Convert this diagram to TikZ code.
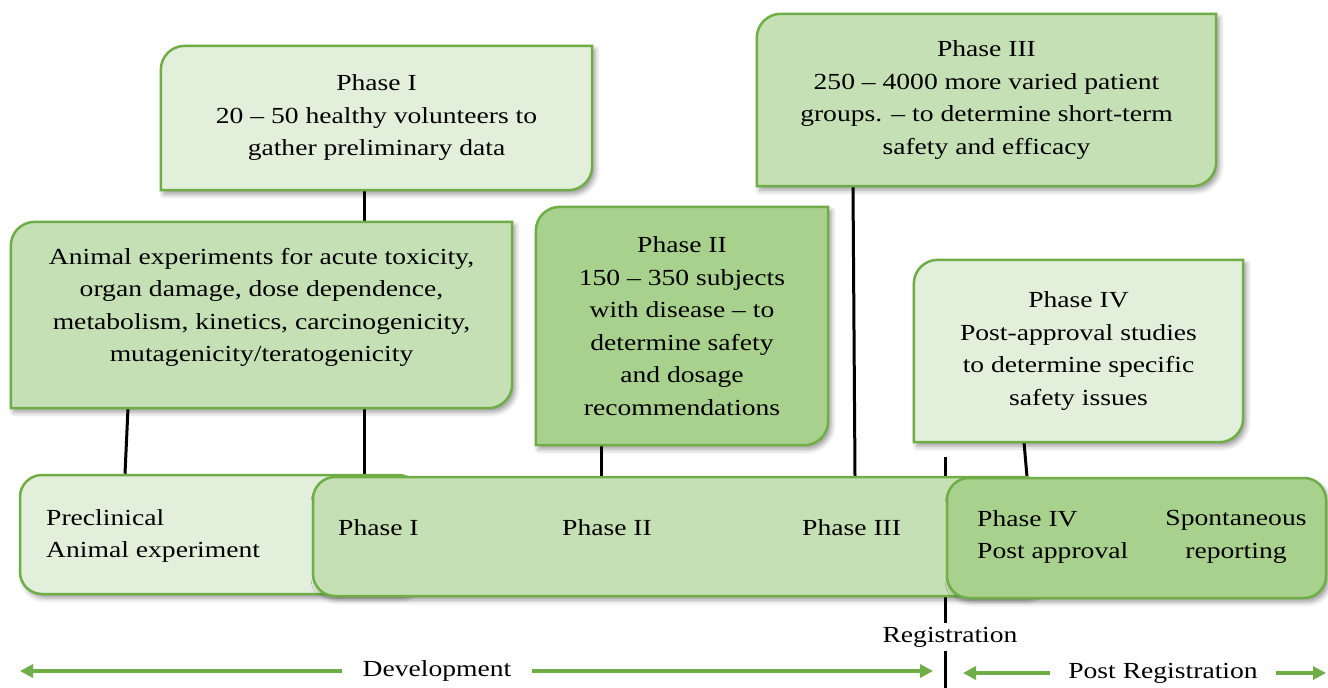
\documentclass[tikz,border=0pt]{standalone}
\usepackage{fontspec}
\setmainfont{Liberation Serif}[FakeStretch=1.2]
\usetikzlibrary{arrows.meta,shadows.blur}

\definecolor{paleleaf}{HTML}{E2EFDA}
\definecolor{midleaf}{HTML}{C5E0B4}
\definecolor{deepleaf}{HTML}{A9D18E}
\definecolor{edgeleaf}{HTML}{70AD47}

\pgfdeclarelayer{links}
\pgfdeclarelayer{panels}
\pgfsetlayers{links,panels,main}

% outline with rounded top-left and bottom-right corners around a node
\newcommand\leafoutline[1]{(#1.south west) -- ([yshift=-24pt]#1.north west)
  arc[start angle=180,end angle=90,radius=24pt] -- (#1.north east)
  -- ([yshift=24pt]#1.south east) arc[start angle=0,end angle=-90,radius=24pt] -- cycle}

\begin{document}
\begin{tikzpicture}[x=1pt,y=-1pt,
  every node/.style={font=\fontsize{23}{32.5}\selectfont, text=black},
  softshadow/.style={blur shadow={shadow xshift=3pt,shadow yshift=-4pt,
      shadow blur radius=5pt,shadow opacity=40}},
  callout/.style={inner sep=0pt, align=center},
  leaf/.style={draw=edgeleaf, line width=2.5pt, softshadow},
  bar/.style={draw=edgeleaf, line width=2.5pt, rounded corners=22pt,
      inner sep=0pt, softshadow},
  lbl/.style={inner sep=0pt},
  link/.style={draw=black, line width=3pt},
  guide/.style={draw=edgeleaf, line width=4pt, -{Triangle[length=13pt,width=13pt]}}]

\useasboundingbox (0,0) rectangle (1328,688);

% description callouts
\node[callout, minimum width=431pt, minimum height=144pt] (c1) at (376.5,118)
  {Phase I\\20 – 50 healthy volunteers to\\gather preliminary data};
\node[callout, minimum width=501pt, minimum height=186pt] (c0) at (261.5,315)
  {Animal experiments for acute toxicity,\\organ damage, dose dependence,\\
   metabolism, kinetics, carcinogenicity,\\mutagenicity/teratogenicity\\[-12pt]\mbox{}};
\node[callout, minimum width=292pt, minimum height=238pt] (c2) at (682,326)
  {Phase II\\150 – 350 subjects\\with disease – to\\determine safety\\and dosage\\recommendations};
\node[callout, minimum width=459pt, minimum height=172pt] (c3) at (986.5,100)
  {Phase III\\250 – 4000 more varied patient\\groups. – to determine short-term\\safety and efficacy};
\node[callout, minimum width=329pt, minimum height=182pt] (c4) at (1078.5,351)
  {Phase IV\\Post-approval studies\\to determine specific\\safety issues};

\begin{pgfonlayer}{panels}
  \path[leaf, fill=paleleaf] \leafoutline{c1};
  \path[leaf, fill=midleaf] \leafoutline{c0};
  \path[leaf, fill=deepleaf] \leafoutline{c2};
  \path[leaf, fill=midleaf] \leafoutline{c3};
  \path[leaf, fill=paleleaf] \leafoutline{c4};
  % timeline bars
  \node[bar, fill=paleleaf, minimum width=400pt, minimum height=119pt] (b0) at (220,534.5) {};
  \node[bar, fill=midleaf, minimum width=732pt, minimum height=119pt] (b1) at (679,536.5) {};
  \node[bar, fill=deepleaf, minimum width=379pt, minimum height=120pt] (b2) at (1136.5,538) {};
\end{pgfonlayer}

% bar labels
\node[lbl, anchor=west, align=left] (t0) at (46,536) {Preclinical\\Animal experiment};
\node[lbl, anchor=west] (t1) at (338,528) {Phase I};
\node[lbl, anchor=west] (t2) at (562,528) {Phase II};
\node[lbl, anchor=west] (t3) at (802,528) {Phase III};
\node[lbl, anchor=west, align=left] (t4) at (977,537) {Phase IV\\Post approval};
\node[lbl, align=center] (t5) at (1236,537) {Spontaneous\\reporting};

% registration marker and span labels
\node[inner xsep=0pt, inner ysep=4pt] (reg) at (950,637) {Registration};
\node[inner xsep=20pt, inner ysep=0pt] (dev) at (437,671) {Development};
\node[inner xsep=18pt, inner ysep=0pt] (post) at (1163,673) {Post Registration};

\coordinate (regtop) at (945,457);
\coordinate (regbot) at (945,688);
\coordinate (devL) at (20,671);
\coordinate (devR) at (933,671);
\coordinate (postL) at (963,673);
\coordinate (postR) at (1326,673);

\begin{pgfonlayer}{links}
  \draw[link] ([xshift=-133.5pt]c0.south) -- ([xshift=-95pt]b0.north);
  \draw[link] ([xshift=-12.5pt]c1.south) -- ([xshift=-315pt]b1.north);
  \draw[link] ([xshift=-81pt]c2.south) -- ([xshift=-78pt]b1.north);
  \draw[link] ([xshift=-133.5pt]c3.south) -- ([xshift=176pt]b1.north);
  \draw[link] ([xshift=-54.5pt]c4.south) -- ([xshift=-109.5pt]b2.north);
  \draw[link] (regtop) -- (reg.north -| regtop);
  \draw[link] (reg.south -| regtop) -- (regbot);
\end{pgfonlayer}

\draw[guide] (dev.west) -- (devL);
\draw[guide] (dev.east) -- (devR);
\draw[guide] (post.west) -- (postL);
\draw[guide] (post.east) -- (postR);
\end{tikzpicture}
\end{document}
